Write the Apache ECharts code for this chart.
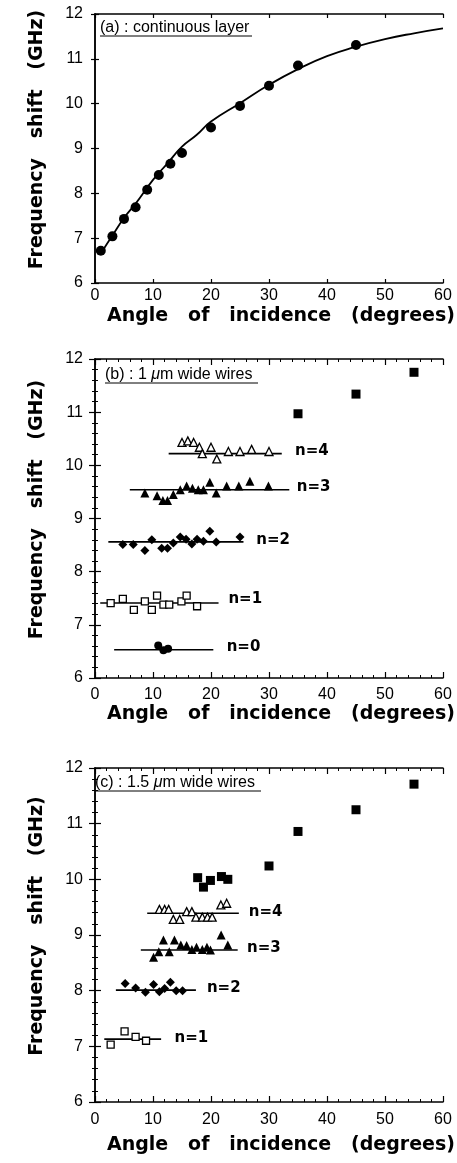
<!DOCTYPE html>
<html>
<head>
<meta charset="utf-8">
<script src="https://cdn.jsdelivr.net/npm/echarts@6/dist/echarts.min.js"></script>
<style>
  html, body { margin: 0; padding: 0; background: #fff; }
  #chart { width: 457px; height: 1163px; }
</style>
</head>
<body>
<div id="chart"></div>
<script>
// (a) continuous layer
const aAngle = [1, 3, 5, 7, 9, 11, 13, 15, 20, 25, 30, 35, 45];
const aFreq = [6.72, 7.04, 7.43, 7.69, 8.08, 8.41, 8.66, 8.90, 9.47, 9.95, 10.40, 10.85, 11.31];
const aFitAngle = [1, 3, 5, 7, 10, 12.5, 15, 17.5, 20, 25, 30, 35, 40, 45, 50, 55, 60];
const aFitFreq = [6.66, 7.06, 7.45, 7.77, 8.30, 8.67, 9.04, 9.30, 9.60, 10.01, 10.42, 10.77, 11.06, 11.27, 11.44, 11.57, 11.68];

// (b) 1 um wide wires
const bBulkAngle = [35, 45, 55];
const bBulkFreq = [10.97, 11.34, 11.75];
const bN4Angle = [15, 16, 17, 18, 18.5, 20, 21, 23, 25, 27, 30];
const bN4Freq = [10.43, 10.46, 10.43, 10.34, 10.22, 10.34, 10.12, 10.26, 10.26, 10.30, 10.26];
const bN3Angle = [8.6, 10.7, 11.7, 12.5, 13.5, 14.7, 15.8, 16.8, 17.8, 18.7, 19.8, 20.9, 22.7, 24.8, 26.7, 29.9];
const bN3Freq = [9.48, 9.43, 9.34, 9.34, 9.45, 9.54, 9.61, 9.57, 9.54, 9.54, 9.68, 9.48, 9.61, 9.61, 9.70, 9.61];
const bN2Angle = [4.8, 6.6, 8.6, 9.8, 11.5, 12.5, 13.5, 14.7, 15.7, 16.7, 17.6, 18.7, 19.8, 20.9, 25];
const bN2Freq = [8.51, 8.51, 8.40, 8.60, 8.44, 8.44, 8.54, 8.65, 8.61, 8.52, 8.61, 8.57, 8.76, 8.56, 8.65];
const bN1Angle = [2.7, 4.8, 6.7, 8.6, 9.8, 10.7, 11.8, 12.8, 14.9, 15.8, 17.6];
const bN1Freq = [7.41, 7.49, 7.28, 7.44, 7.28, 7.55, 7.38, 7.38, 7.44, 7.55, 7.35];
const bN0Angle = [10.9, 11.8, 12.6];
const bN0Freq = [6.61, 6.52, 6.55];
const bLevelName = ['n=4', 'n=3', 'n=2', 'n=1', 'n=0'];
const bLevelFreq = [10.22, 9.54, 8.56, 7.41, 6.53];
const bLevelFrom = [12.7, 6.0, 2.3, 0.9, 3.3];
const bLevelTo = [32.2, 33.5, 25.6, 21.3, 20.4];
const bLabelAngle = [34.5, 34.8, 27.8, 23.0, 22.7];
const bLabelFreq = [10.26, 9.59, 8.59, 7.48, 6.58];

// (c) 1.5 um wide wires
const cBulkAngle = [17.7, 18.7, 19.9, 21.8, 22.9, 30, 35, 45, 55];
const cBulkFreq = [10.03, 9.86, 9.98, 10.05, 10.0, 10.24, 10.86, 11.25, 11.71];
const cN4Angle = [11.1, 12.0, 12.7, 13.5, 14.6, 15.8, 16.7, 17.4, 18.5, 19.4, 20.2, 21.7, 22.7];
const cN4Freq = [9.46, 9.46, 9.46, 9.28, 9.28, 9.42, 9.42, 9.32, 9.32, 9.32, 9.32, 9.54, 9.57];
const cN3Angle = [10.1, 11.0, 11.8, 12.8, 13.7, 14.8, 15.8, 16.7, 17.5, 18.5, 19.3, 19.9, 21.75, 22.9];
const cN3Freq = [8.60, 8.70, 8.91, 8.70, 8.91, 8.82, 8.81, 8.74, 8.78, 8.74, 8.78, 8.73, 9.00, 8.82];
const cN2Angle = [5.2, 7.0, 8.7, 10.1, 11.1, 12.0, 13.0, 14.0, 15.1];
const cN2Freq = [8.13, 8.05, 7.97, 8.11, 7.98, 8.04, 8.15, 8.00, 8.00];
const cN1Angle = [2.7, 5.1, 7.0, 8.8];
const cN1Freq = [7.03, 7.27, 7.17, 7.10];
const cLevelName = ['n=4', 'n=3', 'n=2', 'n=1'];
const cLevelFreq = [9.39, 8.73, 8.01, 7.13];
const cLevelFrom = [9.0, 7.9, 3.6, 1.6];
const cLevelTo = [24.8, 24.6, 17.4, 11.4];
const cLabelAngle = [26.5, 26.2, 19.3, 13.7];
const cLabelFreq = [9.42, 8.76, 8.04, 7.14];

const xTicks = [0, 10, 20, 30, 40, 50, 60];
const yTicks = [6, 7, 8, 9, 10, 11, 12];

const sans = 'Liberation Sans, Arial, sans-serif';
const bold = 'DejaVu Sans, sans-serif';

const zip = (xs, ys) => xs.map((x, i) => [x, ys[i]]);

function xAxes(grid, withMinor, labelMargin, nameGap) {
    const tick = { inside: true, length: withMinor ? 6 : 4, lineStyle: { color: '#000', width: 1.2 } };
    const minor = { show: withMinor, splitNumber: 5, length: 3, lineStyle: { color: '#000', width: 1 } };
    const line = { lineStyle: { color: '#000', width: 1.5 } };
    return [
        {
            gridIndex: grid, type: 'value', position: 'bottom',
            min: xTicks[0], max: xTicks[xTicks.length - 1], interval: 10,
            axisLine: line, axisTick: tick, minorTick: minor, splitLine: { show: false },
            axisLabel: { margin: labelMargin, color: '#000', fontSize: 16, fontFamily: sans },
            name: 'Angle   of   incidence   (degrees)',
            nameLocation: 'middle', nameGap: nameGap,
            nameTextStyle: { fontSize: 19, fontWeight: 'bold', fontFamily: bold, color: '#000', padding: [0, 0, 0, 24] }
        },
        {
            gridIndex: grid, type: 'value', position: 'top',
            min: xTicks[0], max: xTicks[xTicks.length - 1], interval: 10,
            axisLine: line, axisTick: tick, minorTick: minor, splitLine: { show: false },
            axisLabel: { show: false }
        }
    ];
}

function yAxes(grid, withMinor) {
    const tick = { inside: true, length: withMinor ? 6 : 4, lineStyle: { color: '#000', width: 1.2 } };
    const minor = { show: withMinor, splitNumber: 5, length: 3, lineStyle: { color: '#000', width: 1 } };
    const line = { lineStyle: { color: '#000', width: 1.5 } };
    return [
        {
            gridIndex: grid, type: 'value', position: 'left',
            min: yTicks[0], max: yTicks[yTicks.length - 1], interval: 1,
            axisLine: line, axisTick: tick, minorTick: minor, splitLine: { show: false },
            axisLabel: { margin: 12, color: '#000', fontSize: 16, fontFamily: sans },
            name: 'Frequency   shift   (GHz)',
            nameLocation: 'middle', nameGap: 48,
            nameTextStyle: { fontSize: 19, fontWeight: 'bold', fontFamily: bold, color: '#000', padding: [0, 0, 0, 18] }
        },
        {
            gridIndex: grid, type: 'value', position: 'right',
            min: yTicks[0], max: yTicks[yTicks.length - 1], interval: 1,
            axisLine: line, axisTick: tick, minorTick: minor, splitLine: { show: false },
            axisLabel: { show: false }
        }
    ];
}

function dots(axis, data, symbol, size, open) {
    return {
        type: 'scatter', xAxisIndex: axis, yAxisIndex: axis,
        data: data, symbol: symbol, symbolSize: size,
        itemStyle: open
            ? { color: '#fff', borderColor: '#000', borderWidth: 1.3, opacity: 1 }
            : { color: '#000', opacity: 1 },
        z: 3
    };
}

function levelLines(axis, from, to, level) {
    return level.map((y, i) => ({
        type: 'line', xAxisIndex: axis, yAxisIndex: axis,
        data: [[from[i], y], [to[i], y]],
        symbol: 'none', lineStyle: { color: '#000', width: 1.6 }, z: 2
    }));
}

function levelLabels(axis, xs, ys, names) {
    return {
        type: 'scatter', xAxisIndex: axis, yAxisIndex: axis,
        data: xs.map((x, i) => ({ value: [x, ys[i]], name: names[i] })),
        symbolSize: 0,
        itemStyle: { color: '#000', opacity: 1 },
        label: {
            show: true, position: 'right', distance: 0, formatter: '{b}',
            color: '#000', opacity: 1, fontSize: 15, fontWeight: 'bold', fontFamily: bold
        }
    };
}

const titleStyle = {
    fontSize: 16, fontWeight: 'normal', fontFamily: sans, color: '#000',
    rich: { i: { fontSize: 16, fontStyle: 'italic', fontFamily: sans, color: '#000' } }
};

const chart = echarts.init(document.getElementById('chart'), null, { renderer: 'canvas' });

chart.setOption({
    animation: false,
    backgroundColor: '#fff',
    title: [
        { text: '(a) : continuous layer', left: 100, top: 20, padding: 0, textStyle: titleStyle },
        { text: '(b) : 1 {i|μ}m wide wires', left: 105, top: 367, padding: 0, textStyle: titleStyle },
        { text: '(c) : 1.5 {i|μ}m wide wires', left: 95, top: 775, padding: 0, textStyle: titleStyle }
    ],
    graphic: [
        { type: 'line', shape: { x1: 100, y1: 36, x2: 252, y2: 36 }, style: { stroke: '#000', lineWidth: 1 } },
        { type: 'line', shape: { x1: 105, y1: 383, x2: 258, y2: 383 }, style: { stroke: '#000', lineWidth: 1 } },
        { type: 'line', shape: { x1: 95, y1: 791, x2: 261, y2: 791 }, style: { stroke: '#000', lineWidth: 1 } }
    ],
    grid: [
        { left: 95, width: 348, top: 14, height: 269 },
        { left: 95, width: 348, top: 359, height: 319 },
        { left: 95, width: 348, top: 768, height: 334 }
    ],
    xAxis: [].concat(xAxes(0, false, 5, 24), xAxes(1, true, 9, 27), xAxes(2, true, 10, 34)),
    yAxis: [].concat(yAxes(0, false), yAxes(1, true), yAxes(2, true)),
    series: [
        // (a)
        {
            type: 'line', xAxisIndex: 0, yAxisIndex: 0,
            data: zip(aFitAngle, aFitFreq), smooth: true, symbol: 'none',
            lineStyle: { color: '#000', width: 1.8 }, z: 2
        },
        dots(0, zip(aAngle, aFreq), 'circle', 10, false),
        // (b)
        dots(2, zip(bBulkAngle, bBulkFreq), 'rect', 9, false),
        dots(2, zip(bN4Angle, bN4Freq), 'triangle', 8, true),
        dots(2, zip(bN3Angle, bN3Freq), 'triangle', 9, false),
        dots(2, zip(bN2Angle, bN2Freq), 'diamond', 9, false),
        dots(2, zip(bN1Angle, bN1Freq), 'rect', 7, true),
        dots(2, zip(bN0Angle, bN0Freq), 'circle', 8, false),
        ...levelLines(2, bLevelFrom, bLevelTo, bLevelFreq),
        levelLabels(2, bLabelAngle, bLabelFreq, bLevelName),
        // (c)
        dots(4, zip(cBulkAngle, cBulkFreq), 'rect', 9, false),
        dots(4, zip(cN4Angle, cN4Freq), 'triangle', 8, true),
        dots(4, zip(cN3Angle, cN3Freq), 'triangle', 9, false),
        dots(4, zip(cN2Angle, cN2Freq), 'diamond', 9, false),
        dots(4, zip(cN1Angle, cN1Freq), 'rect', 7, true),
        ...levelLines(4, cLevelFrom, cLevelTo, cLevelFreq),
        levelLabels(4, cLabelAngle, cLabelFreq, cLevelName)
    ]
});

window.addEventListener('resize', () => chart.resize());
</script>
</body>
</html>
